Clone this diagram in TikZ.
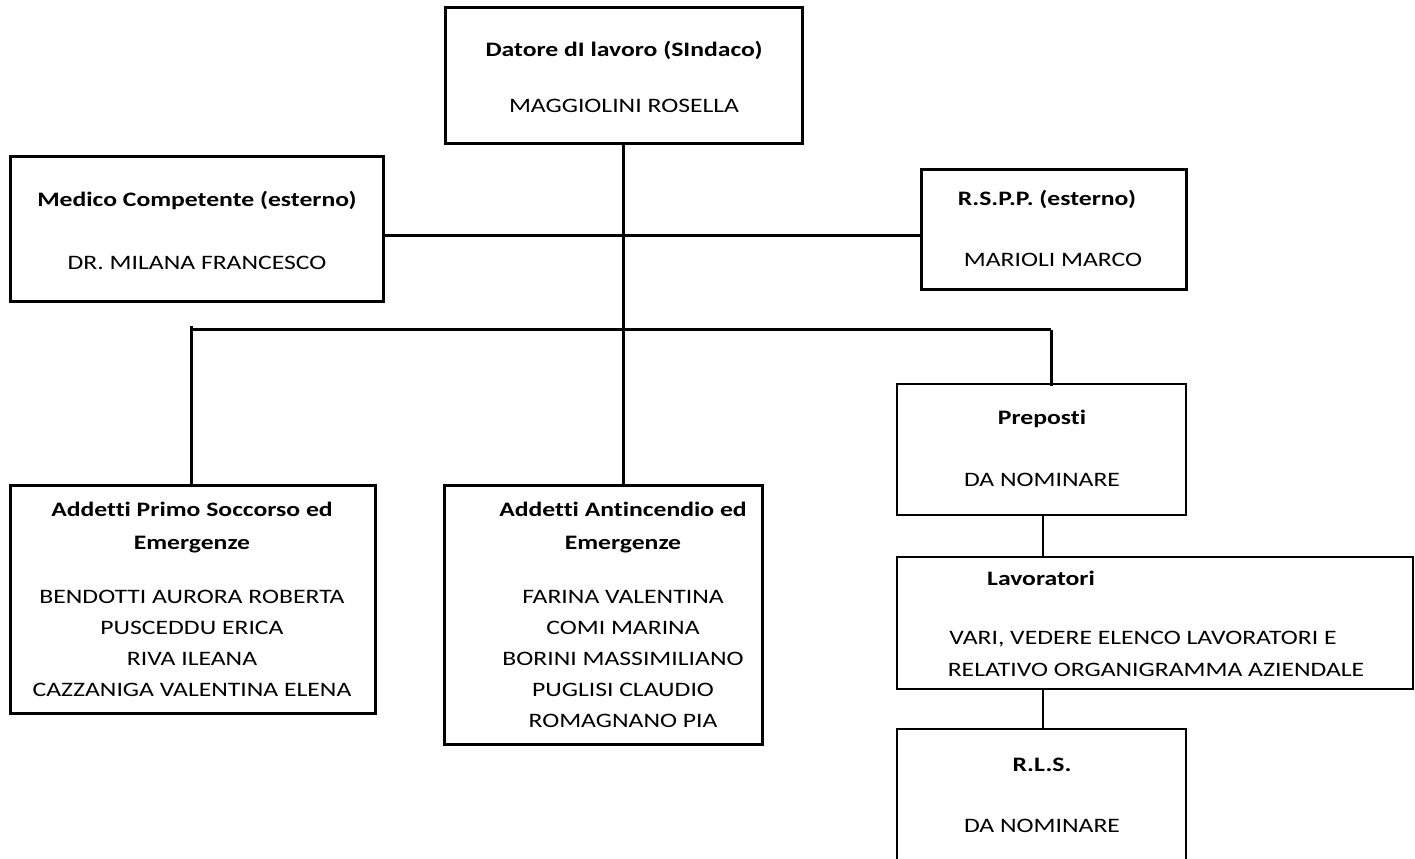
\documentclass[tikz,border=0pt]{standalone}
\usepackage{fontspec}
\setmainfont{Carlito}[FakeStretch=1.25, Ligatures=NoCommon]
\usetikzlibrary{fit}
\begin{document}
\begin{tikzpicture}[x=0.75pt,y=-0.75pt,
  box/.style={draw=black, line width=2.25pt, inner sep=0pt},
  thinbox/.style={draw=black, line width=1.5pt, inner sep=0pt},
  lbl/.style={anchor=base, inner sep=0pt, font=\fontsize{15.4}{18}\selectfont, text=black},
  ttl/.style={anchor=base, inner sep=0pt, font=\fontsize{15.4}{18}\selectfont\bfseries, text=black},
  link/.style={draw=black, line width=2.25pt},
  thinlink/.style={draw=black, line width=1.5pt}]
\useasboundingbox (0,0) rectangle (1415,859);

% boxes
\node[box, fit={(445,8) (802,144)}] (dat) {};
\node[box, fit={(10,157) (383,302)}] (med) {};
\node[box, fit={(921,170) (1186,290)}] (rspp) {};
\node[box, fit={(10,485) (375,713)}] (ps) {};
\node[box, fit={(444,485) (762,744)}] (ai) {};
\node[thinbox, fit={(897,384) (1186,515)}] (prep) {};
\node[thinbox, fit={(897,557) (1413,689)}] (lav) {};
\node[thinbox, fit={(897,729) (1186,880)}] (rls) {};

% connectors
\coordinate (busL) at (191,330);
\coordinate (busR) at (1051,330);
\draw[link] (med.east |- 0,236) -- (rspp.west |- 0,236);
\draw[link] (dat.south) -- (dat.south |- ai.north);
\draw[link] (busL) -- (busR);
\draw[link] ([yshift=3pt]busL) -- (busL |- ps.north);
\draw[link] (busR) -- ([yshift=-2pt]busR |- prep.north);
\draw[thinlink] (prep.south -| 1043,0) -- (lav.north -| 1043,0);
\draw[thinlink] (lav.south -| 1043,0) -- (rls.north -| 1043,0);

% texts
\node[ttl] (datT) at (624,57) {Datore dI lavoro (SIndaco)};
\node[lbl] (datN) at (624,113) {MAGGIOLINI ROSELLA};

\node[ttl] (medT) at (197,207) {Medico Competente (esterno)};
\node[lbl] (medN) at (197,270) {DR. MILANA FRANCESCO};

\node[ttl] (rsppT) at (1047,206) {R.S.P.P. (esterno)};
\node[lbl] (rsppN) at (1053,267) {MARIOLI MARCO};

\node[ttl] (prepT) at (1042,425) {Preposti};
\node[lbl] (prepN) at (1042,487) {DA NOMINARE};

\node[ttl] (lavT) at (1041,585) {Lavoratori};
\node[lbl] (lavN1) at (1143,644) {VARI, VEDERE ELENCO LAVORATORI E};
\node[lbl] (lavN2) at (1156,676) {RELATIVO ORGANIGRAMMA AZIENDALE};

\node[ttl] (rlsT) at (1042,771) {R.L.S.};
\node[lbl] (rlsN) at (1042,832) {DA NOMINARE};

\node[ttl] (psT1) at (192,517) {Addetti Primo Soccorso ed};
\node[ttl] (psT2) at (192,549) {Emergenze};
\node[lbl] (psN1) at (192,603) {BENDOTTI AURORA ROBERTA};
\node[lbl] (psN2) at (192,634) {PUSCEDDU ERICA};
\node[lbl] (psN3) at (192,665) {RIVA ILEANA};
\node[lbl] (psN4) at (192,696) {CAZZANIGA VALENTINA ELENA};

\node[ttl] (aiT1) at (623,517) {Addetti Antincendio ed};
\node[ttl] (aiT2) at (623,549) {Emergenze};
\node[lbl] (aiN1) at (623,603) {FARINA VALENTINA};
\node[lbl] (aiN2) at (623,634) {COMI MARINA};
\node[lbl] (aiN3) at (623,665) {BORINI MASSIMILIANO};
\node[lbl] (aiN4) at (623,696) {PUGLISI CLAUDIO};
\node[lbl] (aiN5) at (623,727) {ROMAGNANO PIA};
\end{tikzpicture}
\end{document}
